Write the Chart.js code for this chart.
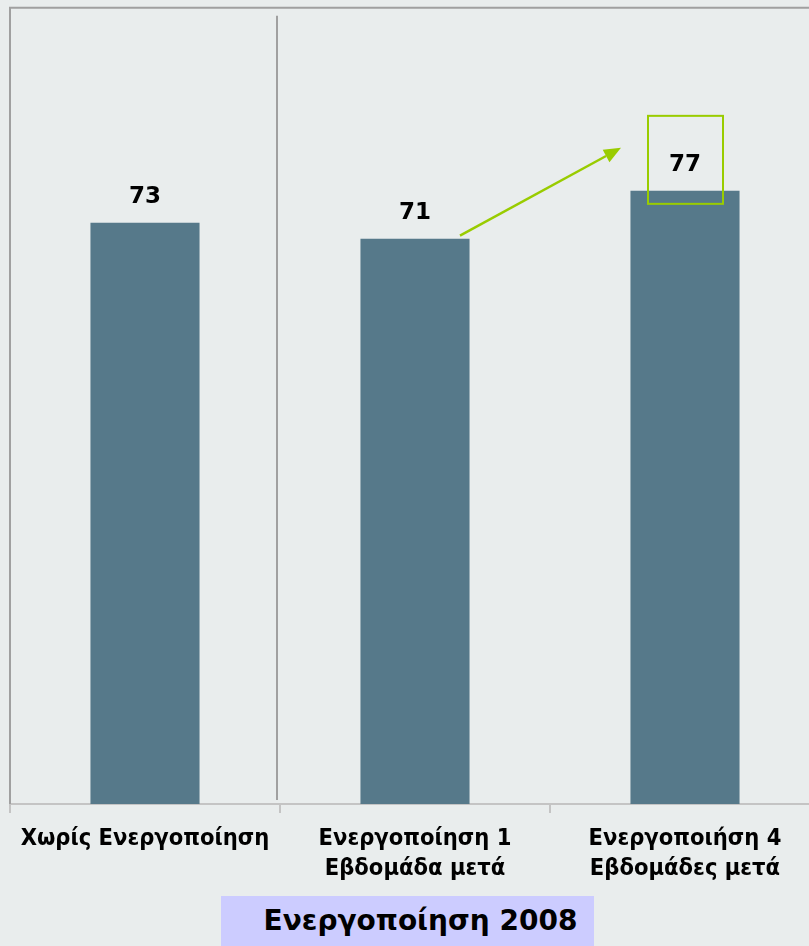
<!DOCTYPE html>
<html>
<head>
<meta charset="utf-8">
<script src="https://cdn.jsdelivr.net/npm/chart.js@4.4.1/dist/chart.umd.min.js"></script>
<style>
  html, body { margin: 0; padding: 0; background: #e9eded; overflow: hidden; }
  #wrap { position: relative; width: 830px; height: 946px; }
  #title { position: absolute; left: 221px; top: 896px; width: 347px; height: 50px; padding-left: 26px;
    background: #ccccff; color: #000; font: bold 28px "DejaVu Sans", sans-serif;
    text-align: center; line-height: 50px; white-space: nowrap; }
</style>
</head>
<body>
<div id="wrap">
  <canvas id="c" width="830" height="946"></canvas>
  <div id="title">Ενεργοποίηση 2008</div>
</div>
<script>
const categories = [
  ["Χωρίς Ενεργοποίηση"],
  ["Ενεργοποίηση 1", "Εβδομάδα μετά"],
  ["Ενεργοποιήση 4", "Εβδομάδες μετά"]
];
const values = [73, 71, 77];
const yMin = 0;
const yMax = 100;

const frameAndNotes = {
  id: 'frameAndNotes',
  beforeDatasetsDraw(chart) {
    const { ctx, chartArea, scales } = chart;
    ctx.save();
    ctx.strokeStyle = '#a0a0a0';
    ctx.lineWidth = 2;
    ctx.beginPath();
    ctx.moveTo(chartArea.left, chartArea.bottom);
    ctx.lineTo(chartArea.left, chartArea.top);
    ctx.lineTo(chart.width, chartArea.top);
    ctx.stroke();
    const x0 = scales.x.getPixelForValue(0);
    const x1 = scales.x.getPixelForValue(1);
    const sep = (x0 + x1) / 2 - 3;
    ctx.beginPath();
    ctx.moveTo(sep, chartArea.top + 8);
    ctx.lineTo(sep, chartArea.bottom - 4);
    ctx.stroke();
    ctx.restore();
  },
  afterDatasetsDraw(chart) {
    const { ctx } = chart;
    const meta = chart.getDatasetMeta(0);
    ctx.save();
    ctx.fillStyle = '#000';
    ctx.font = 'bold 23px "DejaVu Sans", sans-serif';
    ctx.textAlign = 'center';
    ctx.textBaseline = 'middle';
    meta.data.forEach((bar, i) => {
      ctx.fillText(String(values[i]), bar.x, bar.y - 26);
    });
    const b3 = meta.data[2];
    const b2 = meta.data[1];
    ctx.strokeStyle = '#99cc00';
    ctx.lineWidth = 2;
    ctx.strokeRect(b3.x - 37, b3.y - 75, 75, 88);
    const sx = b2.x + 45, sy = b2.y - 3;
    const ex = b3.x - 64, ey = b3.y - 43;
    const ang = Math.atan2(ey - sy, ex - sx);
    const hl = 17;
    const bx = ex - hl * Math.cos(ang), by = ey - hl * Math.sin(ang);
    ctx.lineWidth = 2.5;
    ctx.beginPath();
    ctx.moveTo(sx, sy);
    ctx.lineTo(bx, by);
    ctx.stroke();
    ctx.fillStyle = '#99cc00';
    ctx.beginPath();
    ctx.moveTo(ex, ey);
    ctx.lineTo(bx + 7 * Math.sin(ang), by - 7 * Math.cos(ang));
    ctx.lineTo(bx - 7 * Math.sin(ang), by + 7 * Math.cos(ang));
    ctx.closePath();
    ctx.fill();
    ctx.restore();
  }
};

new Chart(document.getElementById('c'), {
  type: 'bar',
  data: {
    labels: categories,
    datasets: [{
      data: values,
      backgroundColor: '#56798a',
      barPercentage: 0.404,
      categoryPercentage: 1.0
    }]
  },
  options: {
    responsive: false,
    animation: false,
    layout: { padding: { left: 10, right: 10, top: 7.7, bottom: 51 } },
    plugins: { legend: { display: false }, tooltip: { enabled: false } },
    scales: {
      x: {
        grid: { display: true, drawOnChartArea: false, offset: true, color: '#c4c4c4', lineWidth: 2, tickLength: 9 },
        border: { display: true, color: '#c4c4c4', width: 2 },
        ticks: { color: '#000', padding: 11, maxRotation: 0, font: { family: '"DejaVu Sans Condensed", "DejaVu Sans"', weight: 'bold', size: 23.5, lineHeight: '30px' } }
      },
      y: {
        display: false,
        min: yMin,
        max: yMax
      }
    }
  },
  plugins: [frameAndNotes]
});
</script>
</body>
</html>
